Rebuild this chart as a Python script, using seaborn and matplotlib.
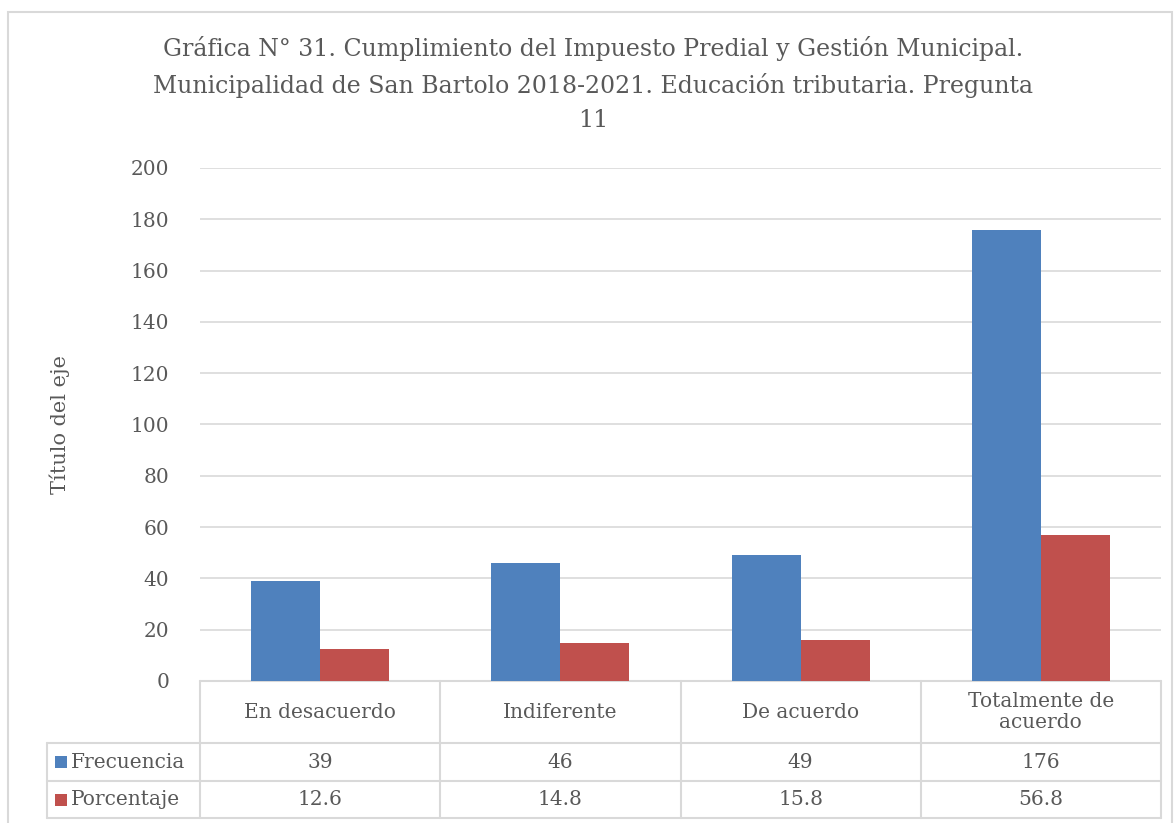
import matplotlib
matplotlib.use("Agg")
import matplotlib.pyplot as plt
import seaborn as sns
import pandas as pd
from matplotlib.patches import Rectangle
from matplotlib.lines import Line2D

categories = ["En desacuerdo", "Indiferente", "De acuerdo", "Totalmente de\nacuerdo"]
frecuencia = [39, 46, 49, 176]
porcentaje = [12.6, 14.8, 15.8, 56.8]
series_names = ["Frecuencia", "Porcentaje"]
freq_labels = ["39", "46", "49", "176"]
pct_labels = ["12.6", "14.8", "15.8", "56.8"]
yticks = [0, 20, 40, 60, 80, 100, 120, 140, 160, 180, 200]
title = ("Gráfica N° 31. Cumplimiento del Impuesto Predial y Gestión Municipal.\n"
         "Municipalidad de San Bartolo 2018-2021. Educación tributaria. Pregunta\n11")

colors = ["#4f81bd", "#c0504d"]
txt = "#595959"
gridc = "#d9d9d9"

sns.set_theme(style="white")
plt.rcParams["font.family"] = ["DejaVu Serif"]

df = pd.DataFrame({
    "cat": categories * 2,
    "serie": [series_names[0]] * 4 + [series_names[1]] * 4,
    "val": frecuencia + porcentaje,
})

fig = plt.figure(figsize=(11.76, 8.23), dpi=100)
ax = fig.add_axes([200 / 1176, 1 - 681 / 823, 961 / 1176, 513 / 823])

sns.barplot(data=df, x="cat", y="val", hue="serie", palette=colors, width=0.575,
            saturation=1, ax=ax, legend=False, zorder=3, linewidth=0)

ax.set_xlim(-0.5, 3.5)
ax.set_ylim(0, 200)
ax.set_yticks(yticks)
ax.set_yticklabels([str(t) for t in yticks], fontsize=14.5, color=txt)
ax.tick_params(axis="y", length=0, pad=22)
ax.set_xticks([])
ax.set_xlabel("")
ax.set_ylabel("Título del eje", fontsize=15, color=txt, labelpad=44)
ax.yaxis.grid(True, color=gridc, linewidth=1.2, zorder=0)
ax.set_axisbelow(True)
for s in ax.spines.values():
    s.set_visible(False)

fig.text(0.5 + 5 / 1176, 1 - 36 / 823, title, fontsize=17, color=txt, ha="center",
         va="top", linespacing=1.6, multialignment="center")

# data table below axes (axes-fraction coordinates)
h0, h1, h2 = -62 / 513, -100 / 513, -137 / 513
xl = -153 / 961
tr = ax.transAxes
kw = dict(color=gridc, linewidth=1.5, transform=tr, clip_on=False)
ax.add_line(Line2D([0, 1], [0, 0], **kw))
ax.add_line(Line2D([xl, 1], [h0, h0], **kw))
ax.add_line(Line2D([xl, 1], [h1, h1], **kw))
ax.add_line(Line2D([xl, 1], [h2, h2], **kw))
ax.add_line(Line2D([xl, xl], [h0, h2], **kw))
for i in range(5):
    ax.add_line(Line2D([i * 0.25, i * 0.25], [0, h2], **kw))

for i, c in enumerate(categories):
    xc = (i + 0.5) * 0.25
    ax.text(xc, h0 / 2, c, transform=tr, ha="center", va="center", fontsize=14.5,
            color=txt, linespacing=1.1)
    ax.text(xc, (h0 + h1) / 2, freq_labels[i], transform=tr, ha="center", va="center",
            fontsize=14.5, color=txt)
    ax.text(xc, (h1 + h2) / 2, pct_labels[i], transform=tr, ha="center", va="center",
            fontsize=14.5, color=txt)

for j, (name, col, (ya, yb)) in enumerate(zip(series_names, colors, [(h0, h1), (h1, h2)])):
    ym = (ya + yb) / 2
    ax.add_patch(Rectangle((xl + 8 / 961, ym - 6 / 513), 12 / 961, 12 / 513, transform=tr,
                           facecolor=col, edgecolor="none", clip_on=False))
    ax.text(xl + 24 / 961, ym, name, transform=tr, ha="left", va="center",
            fontsize=14.5, color=txt)

fig.add_artist(Rectangle((8 / 1176, -0.05), 1164 / 1176, 1.05 - 12 / 823,
                         transform=fig.transFigure, facecolor="none",
                         edgecolor=gridc, linewidth=1.5))

fig.savefig("out.png", dpi=100)
